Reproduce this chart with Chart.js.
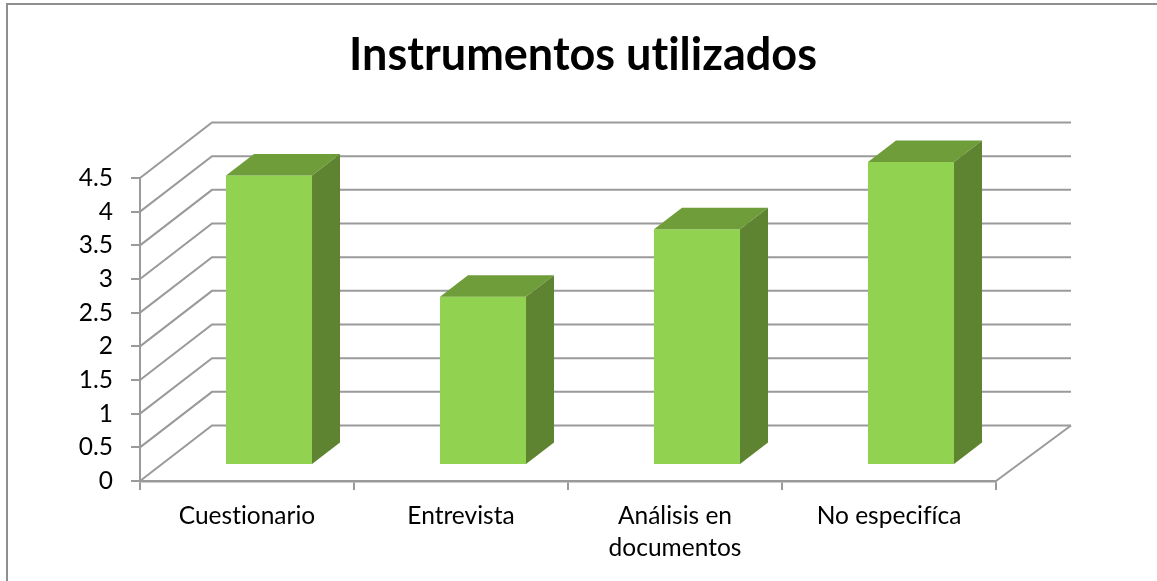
<!DOCTYPE html>
<html>
<head>
<meta charset="utf-8">
<script src="https://cdn.jsdelivr.net/npm/chart.js@4/dist/chart.umd.min.js"></script>
<style>
    body { margin: 0; background: #fff; }
    #wrap { position: relative; width: 1157px; height: 581px; overflow: hidden; }
    #frame { position: absolute; left: 6px; top: 3px; width: 1151px; height: 578px;
             border-left: 2px solid #8f8f8f; border-top: 2px solid #8f8f8f; box-sizing: border-box; }
    canvas { position: absolute; left: 0; top: 0; }
</style>
</head>
<body>
<div id="wrap">
    <canvas id="myChart" width="1157" height="581"></canvas>
    <div id="frame"></div>
</div>
<script>
const titleText = "Instrumentos utilizados";
const categories = ["Cuestionario", "Entrevista", ["Análisis en", "documentos"], "No especifíca"];
const values = [4.3, 2.5, 3.5, 4.5];
const axisMax = 4.5;
const axisStep = 0.5;

const gridColor = "#9a9a9a";
const frontColor = "#91d250";
const sideColor = "#5f8431";
const topColor = "#6f9d3a";
const fontName = "Lato, Carlito, sans-serif";

// 3d look: the bars are moved into the box, walls and faces are drawn around them
const box3d = {
    id: "box3d",
    beforeDraw(chart) {
        // no ti / fi ligatures in the labels
        chart.ctx.textRendering = "optimizeSpeed";
    },
    beforeDatasetsDraw(chart) {
        const ctx = chart.ctx;
        const area = chart.chartArea;
        const y = chart.scales.y;
        ctx.save();
        ctx.strokeStyle = gridColor;
        ctx.lineWidth = 2;
        y.ticks.forEach(t => {
            const py = y.getPixelForValue(t.value);
            ctx.beginPath();
            ctx.moveTo(area.left, py);
            ctx.lineTo(area.left + 72, py - 55.5);
            ctx.lineTo(area.right + 75, py - 55.5);
            ctx.stroke();
        });
        // floor
        ctx.beginPath();
        ctx.moveTo(area.right, area.bottom);
        ctx.lineTo(area.right + 75, area.bottom - 55.5);
        ctx.stroke();
        ctx.restore();

        // bars stand a bit inside the box
        ctx.save();
        ctx.translate(22, -16);
    },
    afterDatasetsDraw(chart) {
        const ctx = chart.ctx;
        const dx = 28;
        const dy = 21.5;
        chart.getDatasetMeta(0).data.forEach(bar => {
            const l = bar.x - bar.width / 2;
            const r = bar.x + bar.width / 2;
            ctx.fillStyle = topColor;
            ctx.beginPath();
            ctx.moveTo(l, bar.y);
            ctx.lineTo(l + dx, bar.y - dy);
            ctx.lineTo(r + dx, bar.y - dy);
            ctx.lineTo(r, bar.y);
            ctx.closePath();
            ctx.fill();
            ctx.fillStyle = sideColor;
            ctx.beginPath();
            ctx.moveTo(r, bar.y);
            ctx.lineTo(r + dx, bar.y - dy);
            ctx.lineTo(r + dx, bar.base - dy);
            ctx.lineTo(r, bar.base);
            ctx.closePath();
            ctx.fill();
        });
        ctx.restore();
    }
};

new Chart(document.getElementById("myChart"), {
    type: "bar",
    data: {
        labels: categories,
        datasets: [{
            data: values,
            backgroundColor: frontColor,
            barPercentage: 0.402,
            categoryPercentage: 1,
            clip: false
        }]
    },
    options: {
        responsive: false,
        animation: false,
        layout: { padding: { left: 9 } },
        plugins: {
            legend: { display: false },
            tooltip: { enabled: false },
            title: {
                display: true,
                text: titleText,
                color: "#000",
                font: { family: fontName, size: 45, weight: "bold" },
                padding: { top: 28, bottom: 96 }
            }
        },
        scales: {
            x: {
                grid: { drawOnChartArea: false, color: gridColor, lineWidth: 2, tickLength: 9 },
                border: { color: gridColor, width: 2.5 },
                ticks: {
                    color: "#000",
                    font: { family: fontName, size: 24.5, lineHeight: 1.27 },
                    padding: 11,
                    maxRotation: 0,
                    autoSkip: false
                },
                afterFit(scale) { scale.height = 100; }
            },
            y: {
                min: 0,
                max: axisMax,
                grid: { drawOnChartArea: false, color: gridColor, lineWidth: 2, tickLength: 9 },
                border: { color: gridColor, width: 2 },
                ticks: {
                    stepSize: axisStep,
                    color: "#000",
                    font: { family: fontName, size: 24.5 },
                    padding: 18,
                    callback: v => String(v)
                },
                afterFit(scale) { scale.width = 131; }
            },
            // empty axis, keeps the room on the right of the box
            yRight: {
                type: "linear",
                position: "right",
                grid: { display: false },
                border: { display: false },
                ticks: { display: false },
                afterFit(scale) { scale.width = 161; }
            }
        }
    },
    plugins: [box3d]
});
</script>
</body>
</html>
